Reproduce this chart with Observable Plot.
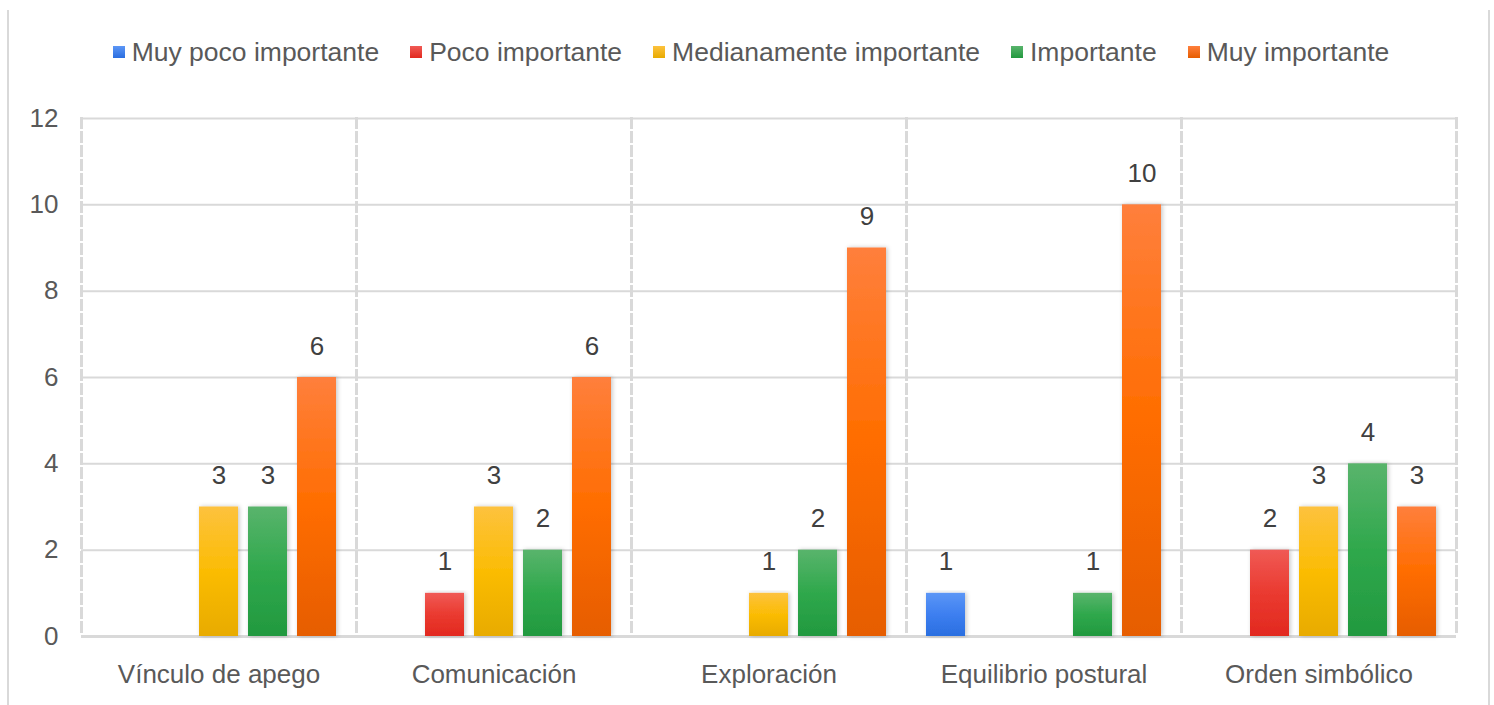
<!DOCTYPE html>
<html>
<head>
<meta charset="utf-8">
<script src="https://cdn.jsdelivr.net/npm/d3@7"></script>
<script src="https://cdn.jsdelivr.net/npm/@observablehq/plot@0.6"></script>
<style>
  html, body { margin: 0; padding: 0; background: #fff; }
  body { width: 1494px; height: 705px; position: relative; overflow: hidden;
         font-family: "Liberation Sans", Arial, sans-serif; }
  #frame { position: absolute; left: 7px; top: 10px; width: 1479px; height: 720px;
           border-left: 2px solid #d9d9d9; border-right: 2px solid #d9d9d9; }
  #legend { position: absolute; left: 4px; top: 34px; width: 1494px; height: 36px;
            display: flex; justify-content: center; align-items: center; gap: 31px;
            font-size: 26.5px; color: #595959; }
  #legend .item { display: flex; align-items: center; white-space: nowrap; }
  #legend .sw { width: 12px; height: 12px; margin-right: 7px; }
  #chart { position: absolute; left: 0; top: 95px; }
</style>
</head>
<body>
<div id="frame"></div>
<div id="legend"></div>
<div id="chart"></div>
<script>
// Dimensions evaluated (x axis groups)
const categories = ["Vínculo de apego", "Comunicación", "Exploración", "Equilibrio postural", "Orden simbólico"];

// Importance levels (series)
const series = ["Muy poco importante", "Poco importante", "Medianamente importante", "Importante", "Muy importante"];

// Counts per level, one value per dimension
const muyPocoImportante    = [0, 0, 0, 1, 0];
const pocoImportante       = [0, 1, 0, 0, 2];
const medianamente         = [3, 3, 1, 0, 3];
const importante           = [3, 2, 2, 1, 4];
const muyImportante        = [6, 6, 9, 10, 3];

const yTicks = [0, 2, 4, 6, 8, 10, 12];

// Gradient stops per series: top, middle, bottom
const palette = [
  ["#5c96f6", "#3d7ff0", "#2a6ee0"],
  ["#f05a55", "#ea3a30", "#e2291f"],
  ["#fdc23e", "#fbbc04", "#e8ab00"],
  ["#59b46c", "#2fa84c", "#22993f"],
  ["#ff7f3c", "#ff6d00", "#e65d00"]
];

const values = [muyPocoImportante, pocoImportante, medianamente, importante, muyImportante];
const rows = [];
categories.forEach((c, i) => {
  series.forEach((s, j) => rows.push({category: c, level: s, value: values[j][i]}));
});
const shown = rows.filter(d => d.value > 0);

// Legend
const legend = document.getElementById("legend");
series.forEach((s, j) => {
  const item = document.createElement("div");
  item.className = "item";
  const sw = document.createElement("span");
  sw.className = "sw";
  sw.style.background = `linear-gradient(${palette[j][0]}, ${palette[j][2]})`;
  item.appendChild(sw);
  item.appendChild(document.createTextNode(s));
  legend.appendChild(item);
});

const gridColor = "#d9d9d9";

const chart = Plot.plot({
  width: 1494,
  height: 610,
  marginLeft: 80,
  marginRight: 37,
  marginTop: 23,
  marginBottom: 69,
  style: {fontFamily: "Liberation Sans, Arial, sans-serif", fontSize: "26px", color: "#595959", background: "transparent"},
  fx: {domain: categories, padding: 0, label: null},
  x: {domain: series, paddingInner: 0.2, paddingOuter: 0.38, axis: null},
  y: {domain: [0, 12], label: null, axis: null},
  color: {domain: series, range: series.map((s, j) => `url(#grad${j})`)},
  marks: [
    Plot.ruleY(yTicks.filter(t => t > 0), {y: d => d, stroke: gridColor, strokeWidth: 2}),
    Plot.ruleY([0], {stroke: gridColor, strokeWidth: 3}),
    Plot.frame({anchor: "left", stroke: gridColor, strokeWidth: 3, strokeDasharray: "9,5"}),
    Plot.frame({anchor: "right", stroke: gridColor, strokeWidth: 3, strokeDasharray: "9,5"}),
    Plot.barY(shown, {fx: "category", x: "level", y: "value", fill: "level"}),
    Plot.text(shown, {fx: "category", x: "level", y: "value", text: d => String(d.value),
      lineAnchor: "bottom", dy: -23, fill: "#404040", fontSize: 26}),
    Plot.axisY({ticks: yTicks, tickSize: 0, tickPadding: 23, tickFormat: d => String(d), fill: "#595959", fontSize: 26}),
    Plot.axisFx({anchor: "bottom", tickSize: 0, tickPadding: 28, label: null, fill: "#595959", fontSize: 26})
  ]
});

// Vertical gradients and a soft shadow for the bars
const ns = "http://www.w3.org/2000/svg";
const defs = document.createElementNS(ns, "defs");
palette.forEach((p, j) => {
  const g = document.createElementNS(ns, "linearGradient");
  g.setAttribute("id", `grad${j}`);
  g.setAttribute("x1", "0"); g.setAttribute("y1", "0");
  g.setAttribute("x2", "0"); g.setAttribute("y2", "1");
  [[0, p[0]], [0.5, p[1]], [1, p[2]]].forEach(([o, c]) => {
    const st = document.createElementNS(ns, "stop");
    st.setAttribute("offset", o);
    st.setAttribute("stop-color", c);
    g.appendChild(st);
  });
  defs.appendChild(g);
});
const filt = document.createElementNS(ns, "filter");
filt.setAttribute("id", "barShadow");
filt.setAttribute("x", "-20%"); filt.setAttribute("y", "-5%");
filt.setAttribute("width", "150%"); filt.setAttribute("height", "110%");
const sh = document.createElementNS(ns, "feDropShadow");
sh.setAttribute("dx", "1.5"); sh.setAttribute("dy", "0");
sh.setAttribute("stdDeviation", "2");
sh.setAttribute("flood-color", "#000"); sh.setAttribute("flood-opacity", "0.22");
filt.appendChild(sh);
defs.appendChild(filt);
chart.insertBefore(defs, chart.firstChild);
chart.querySelectorAll("g[aria-label='bar'] rect").forEach(r => r.setAttribute("filter", "url(#barShadow)"));

document.getElementById("chart").appendChild(chart);
</script>
</body>
</html>
